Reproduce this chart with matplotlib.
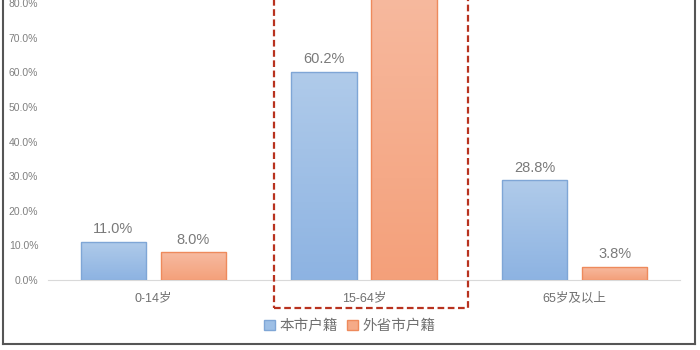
import matplotlib
matplotlib.use("Agg")
import matplotlib.pyplot as plt
import numpy as np
from matplotlib.patches import Rectangle, Patch
from matplotlib.colors import LinearSegmentedColormap

plt.rcParams['font.family'] = ['Liberation Sans', 'Noto Sans CJK SC', 'DejaVu Sans']

categories = ['0-14岁', '15-64岁', '65岁及以上']
series_names = ['本市户籍', '外省市户籍']
local_vals = [11.0, 60.2, 28.8]
outside_vals = [8.0, 88.2, 3.8]
yticks = [0, 10, 20, 30, 40, 50, 60, 70, 80]

fig = plt.figure(figsize=(7, 3.5), dpi=100)
W, H = 700, 350
ax = fig.add_axes([48 / W, 1 - 280 / H, (680 - 48) / W, 280 / H])
ymax = 80 + 3 / 34.6 * 10

x = np.arange(len(categories))
bw = 0.31
off = 0.19

blue_cmap = LinearSegmentedColormap.from_list('b', ['#8db3e2', '#b0cbea'])
orange_cmap = LinearSegmentedColormap.from_list('o', ['#f4a07a', '#f7bba1'])

def grad_bars(bars, cmap, edge):
    for b in bars:
        b.set_facecolor('none')
        b.set_edgecolor(edge)
        b.set_linewidth(1.0)
        b.set_zorder(3)
        xb, yb = b.get_x(), b.get_y()
        w, h = b.get_width(), b.get_height()
        grad = np.linspace(0, 1, 256).reshape(-1, 1)
        im = ax.imshow(grad, extent=[xb, xb + w, yb, yb + h], origin='lower',
                       aspect='auto', cmap=cmap, zorder=2)
        im.set_clip_path(b)

b1 = ax.bar(x - off, local_vals, bw)
b2 = ax.bar(x + off, outside_vals, bw)
grad_bars(b1, blue_cmap, '#7fa6d6')
grad_bars(b2, orange_cmap, '#ee8a5c')
ax.set_xlim(-0.5, 2.5)
ax.set_ylim(0, ymax)

for bars, vals in ((b1, local_vals), (b2, outside_vals)):
    for b, v in zip(bars, vals):
        if v < ymax - 3:
            ax.annotate(f'{v:.1f}%', (b.get_x() + b.get_width() / 2, v),
                        xytext=(0, 4), textcoords='offset points',
                        ha='center', va='bottom', fontsize=10.5, color='#7a7a7a')

for s in ['top', 'right', 'left']:
    ax.spines[s].set_visible(False)
ax.spines['bottom'].set_color('#d9d9d9')
ax.spines['bottom'].set_linewidth(0.8)
ax.set_yticks(yticks)
ax.set_yticklabels([f'{t:.1f}%' for t in yticks], fontsize=7.5, color='#808080')
ax.tick_params(axis='y', length=0, pad=7)
ax.set_xticks(x)
ax.set_xticklabels(categories, fontsize=9, color='#707070')
ax.tick_params(axis='x', length=0, pad=9)
for lab in ax.get_yticklabels():
    lab.set_clip_on(False)

handles = [Patch(facecolor='#9dbfe6', edgecolor='#7fa6d6', label=series_names[0]),
           Patch(facecolor='#f5aa88', edgecolor='#ee8a5c', label=series_names[1])]
fig.legend(handles=handles, loc='center', bbox_to_anchor=(350 / W, 1 - 326 / H),
           ncol=2, frameon=False, fontsize=10.5, handlelength=0.75, handleheight=0.75,
           handletextpad=0.3, columnspacing=0.6, labelcolor='#707070')

fig.add_artist(Rectangle((274 / W, 1 - 308 / H), (468 - 274) / W, 308 / H + 0.05,
                         transform=fig.transFigure, fill=False, edgecolor='#b8321f',
                         linewidth=1.6, linestyle=(0, (3, 1.6)), zorder=10))

frame_kw = dict(transform=fig.transFigure, color='#555555', linewidth=1.5)
fig.add_artist(plt.Line2D([3 / W, 3 / W], [1 - 344 / H, 1.01], **frame_kw))
fig.add_artist(plt.Line2D([695 / W, 695 / W], [1 - 344 / H, 1.01], **frame_kw))
fig.add_artist(plt.Line2D([3 / W, 695 / W], [1 - 344 / H, 1 - 344 / H], **frame_kw))

fig.savefig('out.png', dpi=100)
